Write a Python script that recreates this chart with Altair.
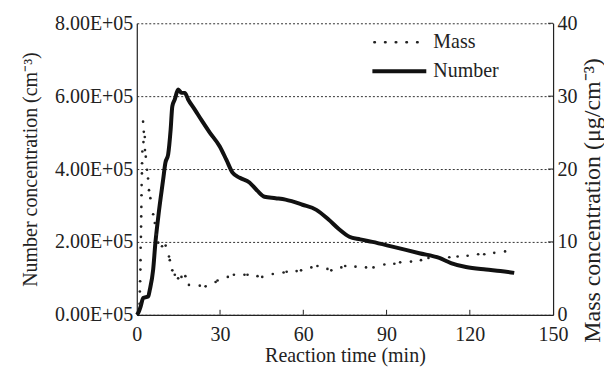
import altair as alt
import pandas as pd

# Number concentration (x 1e5 cm^-3) vs reaction time (min)
num_t = [0.0, 0.5, 1.4, 2.3, 4.1, 4.7, 5.9, 6.7, 7.9, 9.5, 10.3, 11.3, 12.2, 12.8,
         13.7, 14.9, 16.1, 17.3, 18.5, 20.9, 23.5, 26.3, 29.9, 32.3, 34.5, 37.1,
         40.6, 43.5, 46.0, 50.0, 53.6, 59.7, 64.7, 69.0, 73.0, 76.6, 80.5, 84.9,
         92.1, 101.8, 109.0, 113.2, 118.6, 125.8, 131.0, 136.0]
num_v = [0.0, 0.05, 0.23, 0.46, 0.50, 0.69, 1.24, 1.97, 2.79, 3.71, 4.17, 4.40, 5.08, 5.72,
         5.91, 6.18, 6.09, 6.09, 5.91, 5.63, 5.32, 5.00, 4.62, 4.25, 3.90, 3.76,
         3.63, 3.40, 3.24, 3.20, 3.16, 3.02, 2.88, 2.62, 2.34, 2.14, 2.07, 2.00,
         1.87, 1.69, 1.56, 1.42, 1.31, 1.24, 1.20, 1.15]

# Mass concentration (ug/cm^-3) dots
mass_t = [1.0, 1.1, 1.2, 1.3, 1.35, 1.4, 1.5, 1.55, 1.6, 1.65, 1.7, 1.75, 1.85, 1.9, 2.0,
          2.27, 2.4, 2.52, 2.88, 2.95, 3.24, 3.7, 4.06, 4.4, 4.9, 5.9, 6.5, 7.1, 7.7,
          9.1, 10.4, 11.6, 11.9, 12.8, 13.7, 14.9, 16.1, 17.5, 18.8,
          22.7, 24.8, 28.4, 29.1, 32.8, 35.0, 38.8, 39.9, 43.5, 45.2, 49.0, 52.9, 54.0,
          57.6, 59.2, 62.9, 65.1, 68.7, 70.1, 73.7, 75.1, 78.8, 82.6, 85.3, 89.2,
          92.8, 94.9, 98.8, 102.4, 105.1, 112.6, 115.6, 119.2, 123.0, 125.2, 128.8, 132.7]
mass_v = [1.5, 3.2, 4.6, 6.2, 7.5, 9.2, 10.7, 12.1, 13.5, 14.8, 16.4, 17.8, 19.4, 20.8, 22.4,
          26.5, 23.7, 25.1, 24.4, 22.6, 21.7, 19.9, 18.7, 17.1, 16.0, 13.8, 12.6, 11.0, 9.9,
          9.4, 9.5, 8.0, 7.5, 6.1, 5.5, 5.0, 5.2, 5.3, 4.1,
          4.0, 3.9, 4.5, 4.7, 5.2, 5.5, 5.5, 5.5, 5.3, 5.2, 5.6, 5.8, 5.9,
          6.0, 6.1, 6.5, 6.7, 6.3, 6.1, 6.5, 6.7, 6.6, 6.5, 6.5, 6.9,
          7.0, 7.2, 7.3, 7.5, 7.8, 7.9, 8.0, 8.1, 8.3, 8.3, 8.5, 8.7]

x_ticks = [0, 30, 60, 90, 120, 150]
inner_ticks = [30, 60, 90, 120]
num_ticks = [0, 2e5, 4e5, 6e5, 8e5]
mass_ticks = [0, 10, 20, 30, 40]

FONT = "Liberation Serif"
W, H = 417, 292

num_df = pd.DataFrame({"t": num_t, "n": [v * 1e5 for v in num_v]})
mass_df = pd.DataFrame({"t": mass_t, "m": mass_v})
tick_df = pd.DataFrame({"v": inner_ticks})
rtick_df = pd.DataFrame({"v": mass_ticks[1:]})

xscale = alt.Scale(domain=[0, 150], nice=False, zero=False)
xaxis = alt.Axis(values=x_ticks, title="Reaction time (min)", grid=False, ticks=False,
                 labelFont=FONT, labelFontSize=20, labelColor="#222", labelPadding=10,
                 titleFont=FONT, titleFontSize=20, titleFontWeight="normal", titleColor="#222",
                 titlePadding=1, domainColor="#222", domainWidth=1.2, labelFlush=False)

number_line = alt.Chart(num_df).mark_line(color="#111", strokeWidth=4, interpolate="monotone").encode(
    x=alt.X("t:Q", scale=xscale, axis=xaxis),
    y=alt.Y("n:Q", scale=alt.Scale(domain=[0, 8e5], nice=False),
            axis=alt.Axis(values=num_ticks, title="Number concentration (cm⁻³)",
                          labelExpr="format(datum.value / 100000, '.2f') + 'E+05'",
                          grid=True, gridDash=[2, 2], gridColor="#333", gridWidth=1,
                          ticks=False, labelFont=FONT, labelFontSize=20, labelColor="#222",
                          labelPadding=4, titleFont=FONT, titleFontSize=20,
                          titleFontWeight="normal", titleColor="#222", titlePadding=14,
                          domainColor="#222", domainWidth=1.2)),
)

x_inner = alt.Chart(tick_df).mark_rule(color="#222", strokeWidth=1).encode(
    x=alt.X("v:Q", scale=xscale),
    y=alt.value(H), y2=alt.value(H - 5),
)

left = alt.layer(number_line, x_inner)

mscale = alt.Scale(domain=[0, 40], nice=False)
mass_pts = alt.Chart(mass_df).mark_circle(color="#222", size=7, opacity=1).encode(
    x=alt.X("t:Q", scale=xscale),
    y=alt.Y("m:Q", scale=mscale,
            axis=alt.Axis(orient="right", values=mass_ticks, title="Mass concentration (μg/cm⁻³)",
                          grid=False, ticks=False, labelFont=FONT, labelFontSize=20,
                          labelColor="#222", labelPadding=4, titleFont=FONT, titleFontSize=24,
                          titleFontWeight="normal", titleColor="#222",
                          titleAngle=270, titleBaseline="middle", titleAlign="center",
                          titleX=39, titleY=177,
                          domainColor="#222", domainWidth=1.2)),
)
r_inner = alt.Chart(rtick_df).mark_rule(color="#222", strokeWidth=1).encode(
    y=alt.Y("v:Q", scale=mscale),
    x=alt.value(W - 5), x2=alt.value(W),
)
right = alt.layer(mass_pts, r_inner)

legend_df = pd.DataFrame({"label": ["Mass", "Number"], "yy": [19, 48]})
leg_mass = alt.Chart(legend_df).transform_filter("datum.label == 'Mass'").mark_rule(
    color="#222", strokeWidth=2.6, strokeCap="round", strokeDash=[0.5, 10.2]).encode(
    x=alt.value(238), x2=alt.value(284), y=alt.value(19))
leg_num = alt.Chart(legend_df).transform_filter("datum.label == 'Number'").mark_rule(
    color="#111", strokeWidth=4).encode(
    x=alt.value(236), x2=alt.value(290), y=alt.value(48))
leg_text = alt.Chart(legend_df).mark_text(
    align="left", baseline="middle", font=FONT, fontSize=20, color="#222").encode(
    x=alt.value(297), y=alt.Y("yy:Q", scale=None), text="label:N")

chart = alt.layer(left, right, leg_mass, leg_num, leg_text).resolve_scale(
    y="independent"
).properties(width=W, height=H, background="white",
             padding={"left": 12, "top": 5, "right": 0, "bottom": 5}).configure_view(stroke=None)

chart.save("out.html", embed_options={"renderer": "svg", "actions": False})
